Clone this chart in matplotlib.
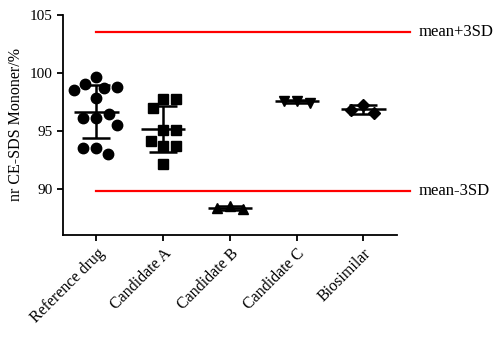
import matplotlib.pyplot as plt
import numpy as np

plt.rcParams['font.family'] = ['Liberation Serif', 'DejaVu Serif']

groups = ['Reference drug', 'Candidate A', 'Candidate B', 'Candidate C', 'Biosimilar']
ref_drug = [99.6, 98.7, 99.0, 98.8, 98.5, 97.8, 96.1, 96.4, 96.1, 95.5, 93.5, 93.0, 93.5]
cand_a = [97.7, 97.7, 97.0, 95.1, 95.1, 93.7, 93.7, 94.1, 92.1]
cand_b = [88.5, 88.2, 88.3]
cand_c = [97.6, 97.4, 97.6]
biosim = [97.2, 96.5, 96.8]
data = [ref_drug, cand_a, cand_b, cand_c, biosim]
markers = ['o', 's', '^', 'v', 'D']
msizes = [7.5, 7, 7, 7, 6]


def swarm(ax, xc, values, diam):
    # simple beeswarm: place each point as close to the centre as possible
    to_px = ax.transData.transform
    placed = []
    offsets = []
    cx = to_px((xc, 0))[0]
    for v in values:
        py = to_px((xc, v))[1]
        cands = [0.0]
        for (qx, qy) in placed:
            dy = py - qy
            if abs(dy) < diam:
                dx = np.sqrt(diam ** 2 - dy ** 2)
                cands += [qx + dx, qx - dx]
        cands.sort(key=abs)
        for c in cands:
            if all((c - qx) ** 2 + (py - qy) ** 2 >= diam ** 2 - 1e-6 for qx, qy in placed):
                break
        placed.append((c, py))
        inv = ax.transData.inverted()
        offsets.append(inv.transform((cx + c, py))[0])
    return offsets


fig = plt.figure(figsize=(4.93, 3.38), dpi=100)
ax = fig.add_axes([0.128, 0.305, 0.677, 0.651])
ax.set_xlim(-0.5, 4.5)
ax.set_ylim(86, 105)

for i, vals in enumerate(data):
    xs = swarm(ax, i, vals, 13)
    ax.plot(xs, vals, linestyle='none', marker=markers[i], ms=msizes[i],
            color='black', zorder=3)
    m = np.mean(vals)
    sd = np.std(vals, ddof=1)
    ax.hlines(m, i - 0.33, i + 0.33, color='black', lw=1.8, zorder=4)
    ax.errorbar(i, m, yerr=sd, fmt='none', ecolor='black', elinewidth=1.8,
                capsize=10, capthick=1.8, zorder=4)

# limits from the reference drug: mean +/- 3 SD
ref_mean = np.mean(ref_drug)
ref_sd = np.std(ref_drug, ddof=1)
for val, lab in [(ref_mean + 3 * ref_sd, 'mean+3SD'), (ref_mean - 3 * ref_sd, 'mean-3SD')]:
    ax.plot([0, 4.7], [val, val], color='red', lw=1.6, clip_on=False, zorder=2)
    ax.text(4.82, val, lab, fontsize=12, va='center', ha='left', clip_on=False)

ax.set_xticks(range(len(groups)))
ax.set_xticklabels(groups, rotation=45, ha='right', rotation_mode='anchor', fontsize=11.5)
ax.set_yticks([90, 95, 100, 105])
ax.tick_params(axis='y', labelsize=11, width=1.3, length=4)
ax.tick_params(axis='x', width=1.3, length=4)
ax.set_ylabel('nr CE-SDS Mononer/%', fontsize=11.5)
ax.spines['top'].set_visible(False)
ax.spines['right'].set_visible(False)
ax.spines['left'].set_linewidth(1.3)
ax.spines['bottom'].set_linewidth(1.3)

fig.savefig('out.png', dpi=100)
